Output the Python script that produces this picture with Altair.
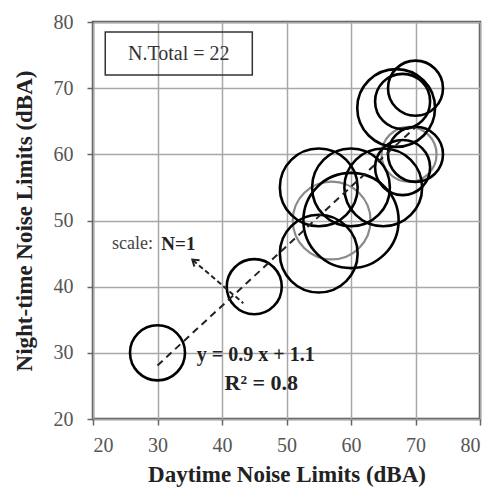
import altair as alt
import pandas as pd

# bubble data (daytime, night-time, N, tone)
day = [30, 45, 55, 55, 60, 60, 65, 68, 67, 68, 70, 70, 57, 69]
night = [30, 40, 45, 55, 50, 55, 55, 58, 67, 68, 60, 70, 50, 60]
count = [1, 1, 2, 2, 3, 2, 2, 1, 2, 1, 1, 1, 2, 1]
tone = ["black"] * 12 + ["gray"] * 2

fit_x = [30, 70]
slope, intercept = 0.9, 1.1

ticks = [20, 30, 40, 50, 60, 70, 80]

df = pd.DataFrame({"day": day, "night": night, "n": count, "tone": tone})
fit = pd.DataFrame({"day": fit_x, "night": [slope * v + intercept for v in fit_x]})

SERIF = "Liberation Serif"

xs = alt.Scale(domain=[20, 80], nice=False, zero=False)
ys = alt.Scale(domain=[20, 80], nice=False, zero=False)

xaxis = alt.Axis(values=ticks, title="Daytime Noise Limits (dBA)", grid=True,
                 labelPadding=10, titlePadding=8)
yaxis = alt.Axis(values=ticks, title="Night-time Noise Limits (dBA)", grid=True,
                 labelPadding=14, titlePadding=17)

base = alt.Chart(df)
size_enc = alt.Size("n:Q", scale=alt.Scale(domain=[0, 3], range=[0, 9075]), legend=None)

gray_b = base.transform_filter("datum.tone == 'gray'").mark_point(
    shape="circle", filled=False, stroke="#8a8a8a", strokeWidth=2.2, opacity=1
).encode(
    x=alt.X("day:Q", scale=xs, axis=xaxis),
    y=alt.Y("night:Q", scale=ys, axis=yaxis),
    size=size_enc,
)

black_b = base.transform_filter("datum.tone == 'black'").mark_point(
    shape="circle", filled=False, stroke="black", strokeWidth=2.6, opacity=1
).encode(
    x=alt.X("day:Q", scale=xs),
    y=alt.Y("night:Q", scale=ys),
    size=size_enc,
)

fit_line = alt.Chart(fit).mark_line(color="#222", strokeWidth=2, strokeDash=[7, 5]).encode(
    x=alt.X("day:Q", scale=xs), y=alt.Y("night:Q", scale=ys)
)

# arrow for scale note
arrow_df = pd.DataFrame({"day": [43.3, 35.5], "night": [37.5, 44.0]})
arrow = alt.Chart(arrow_df).mark_line(color="#222", strokeWidth=2, strokeDash=[5, 3]).encode(
    x=alt.X("day:Q", scale=xs), y=alt.Y("night:Q", scale=ys)
)
head_df = pd.DataFrame({"day": [35.4], "night": [44.1]})
head = alt.Chart(head_df).mark_point(
    shape="M -0.6 0.9 L 0 0 L 0.6 0.9", filled=False, stroke="#222", strokeWidth=2,
    size=180, angle=310, opacity=1
).encode(x=alt.X("day:Q", scale=xs), y=alt.Y("night:Q", scale=ys))

# N.Total box
box_df = pd.DataFrame({"x1": [21.9], "x2": [44.7], "y1": [72.0], "y2": [78.5]})
box = alt.Chart(box_df).mark_rect(fill="white", fillOpacity=0, stroke="#333", strokeWidth=1.5).encode(
    x=alt.X("x1:Q", scale=xs), x2="x2:Q", y=alt.Y("y1:Q", scale=ys), y2="y2:Q"
)

def label(txt, x, y, size, weight="normal", align="left", color="#222"):
    d = pd.DataFrame({"day": [x], "night": [y], "t": [txt]})
    return alt.Chart(d).mark_text(
        font=SERIF, fontSize=size, fontWeight=weight, align=align, baseline="middle", color=color
    ).encode(x=alt.X("day:Q", scale=xs), y=alt.Y("night:Q", scale=ys), text="t:N")

t_total = label("N.Total = 22", 33.3, 75.2, 20, align="center", color="#333")
t_scale = label("scale:", 29.3, 46.4, 18, align="right", color="#444")
t_n1 = label("N=1", 30.6, 46.4, 19, weight="bold")
t_eq = label("y = 0.9 x + 1.1", 36.1, 29.7, 20, weight="bold")
t_r2 = label("R² = 0.8", 40.4, 25.5, 22, weight="bold")

chart = alt.layer(
    gray_b, black_b, fit_line, arrow, head, box, t_total, t_scale, t_n1, t_eq, t_r2
).properties(
    width=387, height=397,
    padding={"left": 93, "top": 22, "right": 12, "bottom": 71},
    autosize=alt.AutoSizeParams(type="none"),
).configure_view(
    stroke="#555", strokeWidth=2.5
).configure_axis(
    labelFont=SERIF, labelFontSize=20, labelColor="#555",
    titleFont=SERIF, titleFontSize=23, titleFontWeight="bold", titleColor="#222",
    gridColor="#a8a8a8", gridWidth=1.5, domain=False,
    tickColor="#666", tickSize=6, tickWidth=1.5,
)

chart.save("out.html", embed_options={"renderer": "svg", "actions": False})
